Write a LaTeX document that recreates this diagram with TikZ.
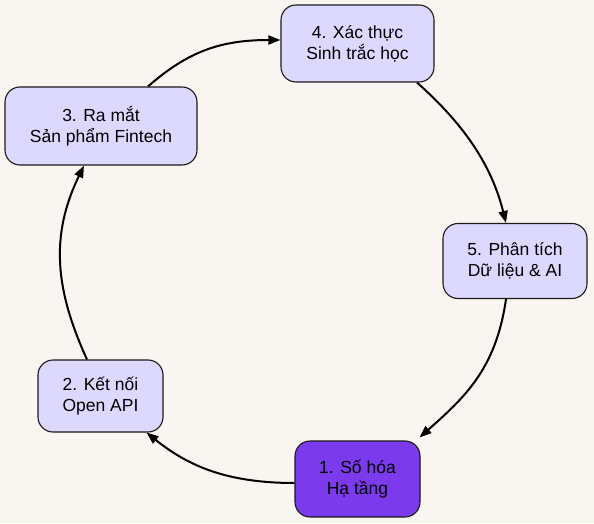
\documentclass[tikz,border=0pt]{standalone}
\usepackage{fontspec}
\setmainfont{Liberation Sans}
\usetikzlibrary{arrows.meta}
\definecolor{bg}{HTML}{F9F6F1}
\definecolor{lav}{HTML}{DDD8FE}
\definecolor{vio}{HTML}{7C3AED}
\definecolor{ink}{HTML}{1A1A1A}
\tikzset{
  stage/.style={draw=ink, line width=1.1pt, rounded corners=15pt, fill=lav,
    align=center, inner sep=0pt, font=\fontsize{17.5}{21}\selectfont, text=black},
  edge/.style={draw=black, line width=2pt, -{Triangle[length=12pt,width=9pt]}}
}
\begin{document}
\begin{tikzpicture}[x=1pt,y=1pt]
\fill[bg] (0,0) rectangle (594,523);
\useasboundingbox (0,0) rectangle (594,523);
\node[stage, fill=vio, minimum width=125pt, minimum height=76pt] (n1) at (357.5,44) {1. Số hóa\\Hạ tầng};
\node[stage, minimum width=125pt, minimum height=72pt] (n2) at (100.5,127) {2. Kết nối\\Open API};
\node[stage, minimum width=192pt, minimum height=78pt] (n3) at (101,397) {3. Ra mắt\\Sản phẩm Fintech};
\node[stage, minimum width=153pt, minimum height=77pt] (n4) at (357.5,479.5) {4. Xác thực\\Sinh trắc học};
\node[stage, minimum width=144pt, minimum height=75pt] (n5) at (515,262) {5. Phân tích\\Dữ liệu \& AI};
\draw[edge] ([yshift=-4pt]n1.west) .. controls +(-70,0) and +(40,-32) .. ([xshift=46pt]n2.south);
\draw[edge] ([xshift=-13.5pt]n2.north) .. controls +(-32,70) and +(-34,-70) .. ([xshift=-17pt]n3.south);
\draw[edge] ([xshift=47pt]n3.north) .. controls +(40,35) and +(-60,0) .. ([yshift=3.5pt]n4.west);
\draw[edge] ([xshift=59.5pt]n4.south) .. controls +(45,-40) and +(-15,60) .. ([xshift=-9pt]n5.north);
\draw[edge] ([xshift=-9pt]n5.south) .. controls +(-10,-70) and +(45,40) .. ([shift={(-1pt,3pt)}]n1.north east);
\end{tikzpicture}
\end{document}
